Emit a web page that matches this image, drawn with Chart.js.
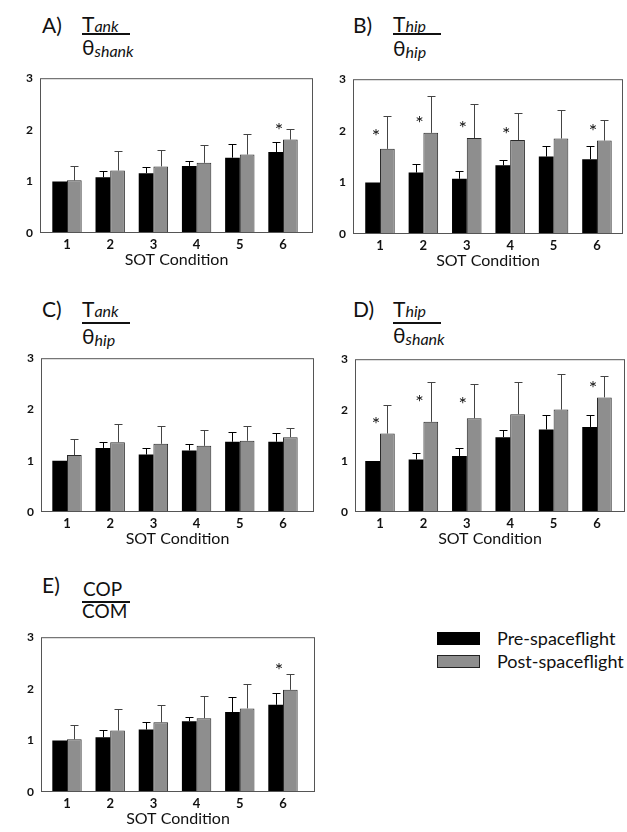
<!DOCTYPE html>
<html>
<head>
<meta charset="utf-8">
<script src="https://cdn.jsdelivr.net/npm/chart.js@4/dist/chart.umd.min.js"></script>
<style>
body { margin: 0; background: #fff; font-family: Lato, sans-serif; color: #111; }
#page { position: relative; width: 627px; height: 832px; overflow: hidden; }
canvas { position: absolute; }
.t { position: absolute; font-size: 21px; line-height: 21px; white-space: nowrap; }
.t.small { font-size: 19px; line-height: 19px; }
.sub { font-size: 16px; font-style: italic; position: relative; }
.rule { position: absolute; height: 1.5px; background: #111; }
.key { position: absolute; width: 43px; height: 13px; box-sizing: border-box; }
.keytxt { position: absolute; font-size: 18px; line-height: 18px; white-space: nowrap; }
</style>
</head>
<body>
<div id="page">
  <!-- A -->
  <div class="t" style="left:42px;top:14px">A)</div>
  <div class="t" style="left:82px;top:13px">T<span class="sub">ank</span></div>
  <div class="rule" style="left:82px;top:33px;width:48px"></div>
  <div class="t" style="left:82px;top:36px">θ<span class="sub" style="top:2px">shank</span></div>
  <!-- B -->
  <div class="t" style="left:353px;top:14px">B)</div>
  <div class="t" style="left:393px;top:13px">T<span class="sub">hip</span></div>
  <div class="rule" style="left:393px;top:33px;width:48px"></div>
  <div class="t" style="left:393px;top:37px">θ<span class="sub" style="top:2px">hip</span></div>
  <!-- C -->
  <div class="t" style="left:42px;top:298px">C)</div>
  <div class="t" style="left:82px;top:298px">T<span class="sub">ank</span></div>
  <div class="rule" style="left:82px;top:322px;width:48px"></div>
  <div class="t" style="left:82px;top:325px">θ<span class="sub" style="top:2px">hip</span></div>
  <!-- D -->
  <div class="t" style="left:353px;top:298px">D)</div>
  <div class="t" style="left:393px;top:298px">T<span class="sub">hip</span></div>
  <div class="rule" style="left:393px;top:322px;width:48px"></div>
  <div class="t" style="left:393px;top:324px">θ<span class="sub" style="top:2px">shank</span></div>
  <!-- E -->
  <div class="t" style="left:42px;top:574px">E)</div>
  <div class="t small" style="left:83px;top:579px">COP</div>
  <div class="rule" style="left:82px;top:601px;width:48px"></div>
  <div class="t small" style="left:82px;top:601px">COM</div>

  <canvas id="chartA" width="315" height="205" style="left:0px;top:64px"></canvas>
  <canvas id="chartB" width="312" height="205" style="left:313px;top:65px"></canvas>
  <canvas id="chartC" width="315" height="204" style="left:1px;top:344px"></canvas>
  <canvas id="chartD" width="312" height="203" style="left:315px;top:345px"></canvas>
  <canvas id="chartE" width="316" height="205" style="left:1px;top:623px"></canvas>

  <div class="key" style="left:437px;top:632px;background:#000"></div>
  <div class="keytxt" style="left:497px;top:629px">Pre-spaceflight</div>
  <div class="key" style="left:437px;top:655px;background:#8e8e8e;border:1.5px solid #222"></div>
  <div class="keytxt" style="left:497px;top:652px">Post-spaceflight</div>
</div>

<script>
// SOT conditions 1-6, mean bar heights and the top of each error bar (mean + SD)
const conditions = [1, 2, 3, 4, 5, 6];
const yTicks = [0, 1, 2, 3];

// A) T_ank / theta_shank
const preA = [1.00, 1.08, 1.16, 1.30, 1.46, 1.57];
const preErrA = [1.00, 1.20, 1.28, 1.39, 1.72, 1.77];
const postA = [1.02, 1.21, 1.29, 1.36, 1.52, 1.81];
const postErrA = [1.29, 1.58, 1.61, 1.70, 1.92, 2.02];
const starA = [null, null, null, null, null, 2.09];

// B) T_hip / theta_hip
const preB = [1.00, 1.19, 1.07, 1.33, 1.50, 1.45];
const preErrB = [1.00, 1.36, 1.22, 1.43, 1.70, 1.71];
const postB = [1.65, 1.96, 1.86, 1.82, 1.85, 1.81];
const postErrB = [2.29, 2.67, 2.52, 2.35, 2.41, 2.21];
const starB = [2.00, 2.24, 2.15, 2.03, null, 2.09];

// C) T_ank / theta_hip
const preC = [1.00, 1.25, 1.12, 1.20, 1.37, 1.37];
const preErrC = [1.00, 1.37, 1.25, 1.33, 1.56, 1.54];
const postC = [1.11, 1.36, 1.33, 1.29, 1.39, 1.46];
const postErrC = [1.43, 1.71, 1.67, 1.59, 1.67, 1.63];
const starC = [null, null, null, null, null, null];

// D) T_hip / theta_shank
const preD = [1.00, 1.03, 1.10, 1.47, 1.62, 1.67];
const preErrD = [1.00, 1.15, 1.25, 1.61, 1.90, 1.90];
const postD = [1.54, 1.77, 1.84, 1.92, 2.01, 2.25];
const postErrD = [2.10, 2.56, 2.52, 2.55, 2.70, 2.67];
const starD = [1.83, 2.26, 2.21, null, null, 2.54];

// E) COP / COM
const preE = [1.00, 1.06, 1.21, 1.37, 1.55, 1.69];
const preErrE = [1.00, 1.21, 1.36, 1.46, 1.85, 1.91];
const postE = [1.02, 1.19, 1.35, 1.43, 1.62, 1.98];
const postErrE = [1.30, 1.60, 1.68, 1.87, 2.10, 2.29];
const starE = [null, null, null, null, null, 2.46];


function makePanel(id, pre, preErr, post, postErr, stars, xMin, xMax) {
    var ctx = document.getElementById(id).getContext('2d');

    // error whiskers, asterisks and the box round the plot
    const extras = {
        id: 'extras',
        afterDatasetsDraw(chart) {
            const c = chart.ctx;
            const xs = chart.scales.x;
            const ys = chart.scales.y;
            const a = chart.chartArea;
            const means = [pre, post];
            [preErr, postErr].forEach((tops, d) => {
                const bars = chart.getDatasetMeta(d).data;
                c.save();
                c.strokeStyle = d === 0 ? '#000' : '#444';
                c.lineWidth = 1;
                bars.forEach((bar, i) => {
                    if (tops[i] <= means[d][i]) return;
                    const top = Math.round(ys.getPixelForValue(tops[i])) + 0.5;
                    const cx = Math.round(bar.x) + 0.5;
                    c.beginPath();
                    c.moveTo(cx, bar.y);
                    c.lineTo(cx, top);
                    c.moveTo(cx - 4, top);
                    c.lineTo(cx + 4, top);
                    c.stroke();
                });
                c.restore();
            });

            c.save();
            c.fillStyle = '#111';
            c.font = '20px Lato';
            c.textAlign = 'center';
            c.textBaseline = 'alphabetic';
            stars.forEach((s, i) => {
                if (s === null) return;
                c.fillText('*', xs.getPixelForValue(conditions[i]) - 4, ys.getPixelForValue(s) + 12);
            });
            c.strokeStyle = '#555';
            c.lineWidth = 1;
            c.strokeRect(a.left + 0.5, a.top + 0.5, a.right - a.left - 1, a.bottom - a.top - 1);
            c.restore();
        }
    };

    return new Chart(ctx, { // eslint-disable-line
        type: 'bar',
        data: {
            datasets: [{
                label: 'Pre-spaceflight',
                data: conditions.map((c, i) => ({ x: c, y: pre[i] })),
                backgroundColor: '#000',
                borderWidth: 0
            },
            {
                label: 'Post-spaceflight',
                data: conditions.map((c, i) => ({ x: c, y: post[i] })),
                backgroundColor: '#8e8e8e',
                borderColor: '#2a2a2a',
                borderWidth: 1
            }]
        },
        options: {
            responsive: false,
            animation: false,
            categoryPercentage: 0.68,
            barPercentage: 1,
            layout: { padding: { top: 8, right: 2, left: 0, bottom: 0 } },
            plugins: {
                legend: { display: false },
                tooltip: { enabled: false }
            },
            scales: {
                x: {
                    type: 'linear',
                    offset: false,
                    min: xMin,
                    max: xMax,
                    grid: { display: false, drawTicks: false, offset: false },
                    border: { display: false },
                    afterBuildTicks: (s) => { s.ticks = conditions.map(v => ({ value: v })); },
                    afterFit: (s) => { s.height = 36; },
                    ticks: { padding: 4, color: '#111', font: { family: 'Lato', size: 13, weight: 'bold' } },
                    title: {
                        display: true,
                        text: 'SOT Condition',
                        color: '#111',
                        padding: 0,
                        font: { family: 'Lato', size: 16 }
                    }
                },
                y: {
                    min: 0,
                    max: 3,
                    grid: { display: false, drawTicks: false },
                    border: { display: false },
                    afterBuildTicks: (s) => { s.ticks = yTicks.map(v => ({ value: v })); },
                    afterFit: (s) => { s.width = 40; },
                    ticks: { padding: 7, color: '#111', font: { family: 'Lato', size: 12, weight: 'bold' } }
                }
            }
        },
        plugins: [extras]
    });
}

makePanel('chartA', preA, preErrA, postA, postErrA, starA, 0.375, 6.694);
makePanel('chartB', preB, preErrB, postB, postErrB, starB, 0.378, 6.600);
makePanel('chartC', preC, preErrC, postC, postErrC, starC, 0.398, 6.718);
makePanel('chartD', preD, preErrD, postD, postErrD, starD, 0.424, 6.645);
makePanel('chartE', preE, preErrE, postE, postErrE, starE, 0.398, 6.741);
</script>
</body>
</html>
